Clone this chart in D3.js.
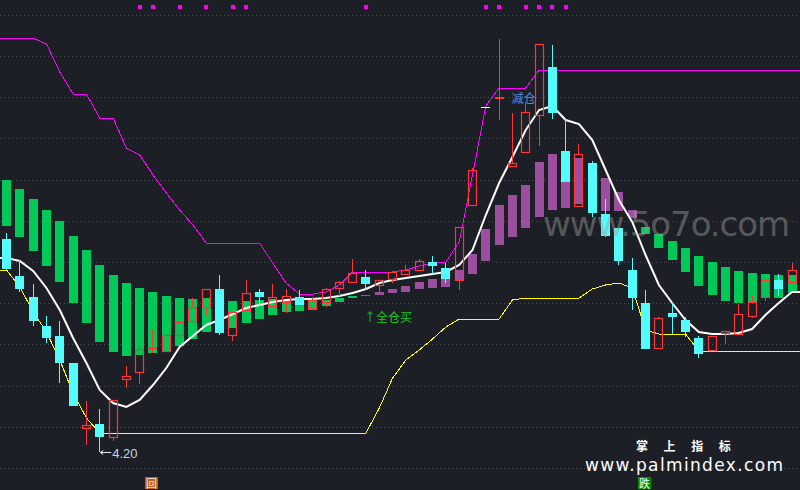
<!DOCTYPE html>
<html><head><meta charset="utf-8">
<script src="https://cdn.jsdelivr.net/npm/d3@7"></script>
<style>html,body{margin:0;padding:0;background:#1d1f27;overflow:hidden}svg{display:block}</style>
</head><body><svg id="chart" width="800" height="490"></svg>
<script>
// ---- data ----
const opens  = [6.33,5.96,5.75,5.46,5.36,5.09,4.43,4.48,4.34,4.92, 4.99,5.23,5.20,5.36,5.50,5.64,5.83,5.36,5.61,5.80, 5.65,5.69,5.75,5.63,5.69,5.83,5.89,5.95,5.86,5.92, 5.97,6.01,6.10,6.04,5.91,6.66,7.65,7.73,7.05,7.19, 7.56,8.05,7.21,6.65,7.09,6.58,6.44,6.02,5.69,5.23, 5.59,5.52,5.34,5.21,5.38,5.37,5.55,5.74,5.92,5.89];
const highs  = [6.39,6.12,5.88,5.56,5.51,5.09,4.71,4.63,4.72,5.06, 5.31,5.43,5.37,5.52,5.74,5.83,5.97,5.60,5.92,5.83, 5.88,5.83,5.82,5.75,5.84,5.91,6.13,6.02,5.92,6.01, 6.07,6.13,6.16,6.09,6.45,7.04,7.65,8.33,7.59,7.70, 8.28,8.27,7.53,7.28,7.11,6.73,6.44,6.14,5.82,5.55, 5.69,5.55,5.36,5.36,5.41,5.68,5.77,5.92,5.98,6.09];
const lows   = [6.02,5.80,5.46,5.29,4.89,4.66,4.27,4.20,4.31,4.84, 4.88,5.19,5.20,5.33,5.50,5.57,5.37,5.31,5.61,5.66, 5.65,5.59,5.67,5.62,5.65,5.76,5.89,5.82,5.80,5.89, 5.97,6.01,5.98,5.89,5.82,6.66,7.65,7.52,7.05,7.19, 7.26,7.53,6.90,6.65,6.55,6.35,6.07,5.62,5.23,5.23, 5.38,5.35,5.14,5.21,5.28,5.37,5.54,5.71,5.76,5.89];
const closes = [6.03,5.83,5.51,5.34,5.09,4.66,4.47,4.35,4.72,4.96, 5.23,5.25,5.37,5.50,5.65,5.83,5.39,5.60,5.79,5.75, 5.75,5.76,5.67,5.72,5.83,5.90,5.99,5.88,5.92,6.00, 6.02,6.11,6.06,5.93,6.45,7.02,7.65,7.75,7.09,7.60, 8.28,7.59,6.90,7.18,6.59,6.36,6.11,5.74,5.23,5.54, 5.55,5.40,5.18,5.36,5.41,5.58,5.70,5.92,5.83,6.02];
// floating band between a fast and a slow average
const fastAvg = [6.46,6.35,6.21,6.06,5.90,5.69,5.49,5.30,5.20,5.16, 5.17,5.19,5.20,5.26,5.33,5.40,5.43,5.44,5.49,5.53, 5.57,5.60,5.61,5.62,5.66,5.70,5.74,5.77,5.80,5.83, 5.86,5.90,5.93,5.96,6.02,6.18,6.43,6.67,6.77,6.87, 7.10,7.18,7.20,7.14,7.04,6.94,6.80,6.62,6.38,6.24, 6.12,6.00,5.86,5.77,5.71,5.69,5.70,5.74,5.74,5.79];
const slowAvg = [6.92,6.83,6.73,6.62,6.51,6.36,6.22,6.07,5.97,5.89, 5.84,5.80,5.76,5.74,5.73,5.74,5.72,5.71,5.71,5.72, 5.73,5.72,5.72,5.72,5.72,5.74,5.76,5.76,5.77,5.79, 5.80,5.83,5.84,5.85,5.91,5.98,6.11,6.27,6.35,6.44, 6.55,6.62,6.64,6.68,6.65,6.61,6.61,6.54,6.45,6.38, 6.31,6.24,6.16,6.10,6.05,6.01,5.99,5.98,5.97,5.97];
const maLine = [6.14,6.11,6.01,5.84,5.62,5.34,5.09,4.82,4.69,4.65, 4.72,4.87,5.04,5.25,5.36,5.47,5.52,5.58,5.64,5.67, 5.70,5.72,5.73,5.73,5.74,5.76,5.79,5.83,5.89,5.92, 5.94,5.96,5.98,6.00,6.07,6.22,6.57,6.89,7.15,7.42, 7.62,7.66,7.52,7.48,7.32,7.02,6.72,6.50,6.17,5.87, 5.69,5.52,5.40,5.38,5.38,5.39,5.43,5.57,5.69,5.80];
const supportLine = [6.02,5.85,5.60,5.40,5.12,4.79,4.54,4.39,4.39,4.39, 4.39,4.39,4.39,4.39,4.39,4.39,4.39,4.39,4.39,4.39, 4.39,4.39,4.39,4.39,4.39,4.39,4.39,4.39,4.64,4.94, 5.12,5.22,5.33,5.45,5.53,5.53,5.53,5.53,5.72,5.74, 5.74,5.74,5.74,5.74,5.83,5.87,5.89,5.84,5.42,5.38, 5.38,5.38,5.21,5.21,5.21,5.21,5.21,5.21,5.21,5.21];
const resistLine = [8.34,8.34,8.34,8.28,8.00,7.78,7.78,7.54,7.54,7.24, 7.17,6.97,6.79,6.62,6.47,6.29,6.29,6.29,6.29,6.29, 6.09,5.89,5.78,5.78,5.80,5.87,6.00,6.00,6.00,6.00, 6.02,6.06,6.09,6.10,6.30,6.97,7.66,7.84,7.84,7.84, 8.02,8.02,8.02,8.02,8.02,8.02,8.02,8.02,8.02,8.02, 8.02,8.02,8.02,8.02,8.02,8.02,8.02,8.02,8.02,8.02];
const signalIdx = [10,11,13,15,17,18,27,36,37,39,40,41,42];
const gridLevels = d3.range(12).map(k => 4.04 + 0.412 * k);
const labels = {reduce: "减仓", buy: "↑全仓买", back: "回", fall: "跌"};
const reduceIdx = 39, buyIdx = 27, backIdx = 11, fallIdx = 48;

// ---- drawing ----
const W = 800, H = 490;
const svg = d3.select('#chart');
const x = d3.scaleLinear().domain([-0.49, 59.6]).range([0, W]);
const y = d3.scaleLinear().domain([3.82, 8.72]).range([H, 0]);
const bw = 9;
const left = i => Math.round(x(i) - bw / 2);
const idx = d3.range(opens.length);
const C = {bg:'#1d1f27', grid:'#4b4e57', cyan:'#55fcfc', red:'#ff3636', green:'#00c957', purple:'#9d4f9f',
           yellow:'#ffff00', magenta:'#ff00ff', white:'#ffffff'};

svg.append('rect').attr('width', W).attr('height', H).attr('fill', C.bg);

// grid
svg.append('g').selectAll('line').data(gridLevels).join('line')
  .attr('x1', 0).attr('x2', W)
  .attr('y1', d => Math.round(y(d)) + 0.5).attr('y2', d => Math.round(y(d)) + 0.5)
  .attr('stroke', C.grid).attr('stroke-dasharray', '1,3');

// floating bars
svg.append('g').selectAll('rect').data(idx).join('rect')
  .attr('x', i => left(i))
  .attr('y', i => Math.round(y(Math.max(fastAvg[i], slowAvg[i]))))
  .attr('width', bw)
  .attr('height', i => Math.max(1, Math.round(y(Math.min(fastAvg[i], slowAvg[i]))) - Math.round(y(Math.max(fastAvg[i], slowAvg[i])))))
  .attr('fill', i => fastAvg[i] > slowAvg[i] ? C.purple : C.green);

// lines
function ext(arr) {
  const pts = idx.map(i => [x(i), y(arr[i])]);
  return [[0, pts[0][1]], ...pts, [W, pts[pts.length - 1][1]]];
}
const line = d3.line();
svg.append('path').attr('d', line(ext(supportLine))).attr('fill', 'none').attr('stroke', C.yellow)
  .attr('stroke-width', 1).attr('shape-rendering', 'crispEdges');
svg.append('path').attr('d', line(ext(resistLine))).attr('fill', 'none').attr('stroke', C.magenta)
  .attr('stroke-width', 1).attr('shape-rendering', 'crispEdges');
svg.append('path').attr('d', line(ext(maLine))).attr('fill', 'none').attr('stroke', C.white).attr('stroke-width', 2);

// candles
const cg = svg.append('g');
idx.forEach(i => {
  const o = opens[i], c = closes[i], h = highs[i], l = lows[i];
  const xl = left(i), xm = xl + 4.5;
  if (c < o) {
    cg.append('line').attr('x1', xm).attr('x2', xm).attr('y1', y(h)).attr('y2', y(l)).attr('stroke', C.cyan);
    const yt = Math.round(y(o)), yb = Math.round(y(c));
    cg.append('rect').attr('x', xl).attr('y', yt).attr('width', bw).attr('height', Math.max(1, yb - yt)).attr('fill', C.cyan);
  } else if (c > o) {
    const yt = Math.round(y(c)), yb = Math.round(y(o));
    if (y(h) < yt) cg.append('line').attr('x1', xm).attr('x2', xm).attr('y1', y(h)).attr('y2', yt).attr('stroke', C.red);
    if (y(l) > yb) cg.append('line').attr('x1', xm).attr('x2', xm).attr('y1', yb).attr('y2', y(l)).attr('stroke', C.red);
    if (yb - yt <= 2) {
      cg.append('rect').attr('x', xl).attr('y', yt).attr('width', bw).attr('height', Math.max(2, yb - yt)).attr('fill', C.red);
    } else {
      cg.append('rect').attr('x', xl + 0.5).attr('y', yt + 0.5).attr('width', bw - 1).attr('height', yb - yt - 1)
        .attr('fill', 'none').attr('stroke', C.red).attr('stroke-width', 1.2);
    }
  } else {
    cg.append('line').attr('x1', xm).attr('x2', xm).attr('y1', y(h)).attr('y2', y(l)).attr('stroke', C.white);
    cg.append('line').attr('x1', xl).attr('x2', xl + bw).attr('y1', Math.round(y(o)) + 0.5).attr('y2', Math.round(y(o)) + 0.5).attr('stroke', C.white);
  }
});

// signal dots at top
svg.append('g').selectAll('rect').data(signalIdx).join('rect')
  .attr('x', i => Math.round(x(i)) - 2).attr('y', 5).attr('width', 4).attr('height', 4).attr('fill', C.magenta);

// lowest low label
const minLow = d3.min(lows), minI = lows.indexOf(minLow);
const lx = x(minI) + 0.5, ly = Math.round(y(minLow)) + 0.5;
svg.append('line').attr('x1', lx).attr('x2', lx + 11).attr('y1', ly).attr('y2', ly).attr('stroke', '#e8ecf4');
svg.append('path').attr('d', `M${lx},${ly}l3,-2M${lx},${ly}l3,2`).attr('stroke', '#e8ecf4').attr('fill', 'none');
svg.append('text').attr('x', lx + 12).attr('y', ly + 5).text(minLow.toFixed(2))
  .attr('font-family', 'Liberation Sans, Arial, sans-serif').attr('font-size', 13).attr('fill', '#c9d3e6');

// signal texts
const cjk = '"Noto Sans CJK SC", sans-serif';
svg.append('text').attr('x', x(reduceIdx) - 2).attr('y', y(highs[reduceIdx]) + 1).attr('text-anchor', 'middle')
  .attr('font-family', cjk).attr('font-size', 12).attr('fill', '#4d8be6').text(labels.reduce);
svg.append('text').attr('x', x(buyIdx) - 2).attr('y', y(fastAvg[buyIdx]) + 27)
  .attr('font-family', cjk).attr('font-size', 12).attr('fill', '#19c619').text(labels.buy);

// bottom icons
function icon(i, bg, fg, t) {
  const g = svg.append('g').attr('transform', `translate(${Math.round(x(i)) - 8},477)`);
  g.append('rect').attr('width', 13).attr('height', 12).attr('fill', bg);
  g.append('text').attr('x', 6.5).attr('y', 10.5).attr('text-anchor', 'middle').attr('font-family', cjk)
    .attr('font-size', 11).attr('fill', fg).text(t);
}
icon(backIdx, '#b8601c', '#f4e8d8', labels.back);
icon(fallIdx, '#008a00', '#ffffff', labels.fall);

// watermarks
svg.append('text').attr('x', 543).attr('y', 236).attr('font-family', 'DejaVu Sans, sans-serif').attr('font-size', 34)
  .attr('fill', '#a0a0a0').attr('fill-opacity', 0.45).attr('textLength', 247).text('www.5o7o.com');
svg.append('text').attr('x', 636).attr('y', 451).attr('font-family', cjk).attr('font-size', 12).attr('font-weight', 'bold')
  .attr('fill', '#ffffff').attr('letter-spacing', 15.6).text('掌上指标');
svg.append('text').attr('x', 585).attr('y', 471).attr('font-family', 'DejaVu Sans, sans-serif').attr('font-size', 17)
  .attr('fill', '#ffffff').attr('textLength', 198).text('www.palmindex.com');
</script></body></html>
